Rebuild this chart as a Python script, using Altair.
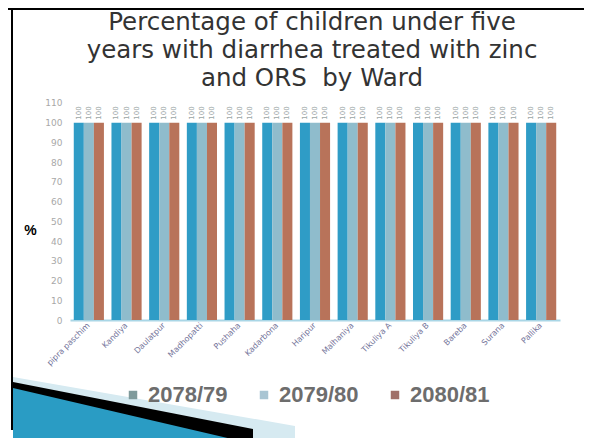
import altair as alt
import pandas as pd

wards = ["pipra paschim", "Kandiya", "Daulatpur", "Madhopatti", "Pushaha",
         "Kadarbona", "Haripur", "Malhaniya", "Tikuliya A", "Tikuliya B",
         "Bareba", "Surana", "Pallika"]
years = ["2078/79", "2079/80", "2080/81"]
v_2078_79 = [100, 100, 100, 100, 100, 100, 100, 100, 100, 100, 100, 100, 100]
v_2079_80 = [100, 100, 100, 100, 100, 100, 100, 100, 100, 100, 100, 100, 100]
v_2080_81 = [100, 100, 100, 100, 100, 100, 100, 100, 100, 100, 100, 100, 100]
y_ticks = [0, 10, 20, 30, 40, 50, 60, 70, 80, 90, 100, 110]
title_lines = ["Percentage of children under five",
               "years with diarrhea treated with zinc",
               "and ORS\u00a0 by Ward"]

rows = []
for yr, vals in zip(years, [v_2078_79, v_2079_80, v_2080_81]):
    for w, v in zip(wards, vals):
        rows.append({"Ward": w, "Year": yr, "Value": v})
df = pd.DataFrame(rows)

bar_colors = ["#2f9cc6", "#8fbccc", "#b8735a"]
legend_colors = ["#7f9a9b", "#a9c5d3", "#a07068"]

x_enc = alt.X("Ward:N", sort=wards,
              scale=alt.Scale(paddingInner=0.2, paddingOuter=0.1),
              axis=alt.Axis(title=None, labelAngle=-45, labelFontSize=8,
                            labelColor="#74749a", ticks=False,
                            domainColor="#a9d6e6", domainWidth=2,
                            labelPadding=4, labelFont="DejaVu Sans"))
y_enc = alt.Y("Value:Q",
              scale=alt.Scale(domain=[0, 111], nice=False),
              axis=alt.Axis(values=y_ticks, tickCount=12, title="%",
                            titleAngle=0,
                            titleFontSize=14, titleFontWeight="bold",
                            titleColor="#000000", titleX=-40, titleY=129,
                            titleAlign="center", titleBaseline="middle",
                            labelColor="#a8a8a8", labelFontSize=9,
                            labelOverlap=False, labelBound=False,
                            labelFlush=False,
                            domain=False, ticks=False, grid=False,
                            labelPadding=8, labelFont="DejaVu Sans"))

# invisible layer that only carries the legend (legend colours)
legend_layer = alt.Chart(df).mark_square(size=1, opacity=1).encode(
    x=alt.X("Ward:N", sort=wards),
    xOffset=alt.XOffset("Year:N", sort=years),
    y=alt.value(150),
    color=alt.Color("Year:N", sort=years,
                    scale=alt.Scale(domain=years, range=legend_colors),
                    legend=alt.Legend(title=None, orient="none",
                                      direction="horizontal",
                                      legendX=52, legendY=283,
                                      symbolType="square", symbolSize=72,
                                      symbolStrokeWidth=0,
                                      labelFontSize=22,
                                      labelFont="Liberation Sans",
                                      labelFontWeight="bold",
                                      labelColor="#6d6d6d",
                                      labelOffset=4, columnPadding=25)),
)

bars = alt.Chart(df).mark_bar().encode(
    x=x_enc,
    y=y_enc,
    xOffset=alt.XOffset("Year:N", sort=years),
    fill=alt.Fill("Year:N", sort=years,
                  scale=alt.Scale(domain=years, range=bar_colors),
                  legend=None),
)

labels = alt.Chart(df).mark_text(angle=270, align="left", baseline="middle",
                                 dx=3, fontSize=7, color="#9aa5a5",
                                 font="DejaVu Sans").encode(
    x=alt.X("Ward:N", sort=wards),
    y=alt.Y("Value:Q"),
    xOffset=alt.XOffset("Year:N", sort=years),
    text=alt.Text("Value:Q"),
)

one = alt.InlineData(values=[{"k": 1}])
R = 150
SIZE = (2 * R) ** 2


def deco(path, fill):
    return alt.Chart(one).mark_point(shape=path, filled=True, fill=fill,
                                     opacity=1, strokeWidth=0,
                                     size=SIZE).encode(
        x=alt.value(90), y=alt.value(307))


light = deco("M-0.98,-0.207 L0.9,0.12 L0.9,0.2 L-0.98,0.2 Z", "#d6eaf1")
dark = deco("M-0.98,-0.173 L0.62,0.14 L0.62,0.2 L-0.98,0.2 Z", "#000000")
teal = deco("M-0.98,-0.133 L0.45,0.2 L-0.98,0.2 Z", "#2a9cc4")

title = alt.Chart(one).mark_text(
    text=title_lines, fontSize=24.5, font="DejaVu Sans", color="#333333",
    lineHeight=28, align="center", baseline="alphabetic").encode(
    x=alt.value(242), y=alt.value(-71))

top_line = alt.Chart(one).mark_rule(color="#000000", strokeWidth=2).encode(
    x=alt.value(-62), x2=alt.value(514), y=alt.value(-92))
left_line = alt.Chart(one).mark_rule(color="#000000", strokeWidth=2).encode(
    x=alt.value(-58), y=alt.value(-93), y2=alt.value(329))

chart = alt.layer(legend_layer, bars, labels, title, top_line, left_line,
                  light, dark, teal).properties(
    width=490, height=219,
    autosize="none",
    padding={"left": 62, "top": 93, "right": 24, "bottom": 118},
).configure(background="#ffffff").configure_view(stroke=None)

chart.save("out.html", embed_options={"renderer": "svg", "actions": False})
